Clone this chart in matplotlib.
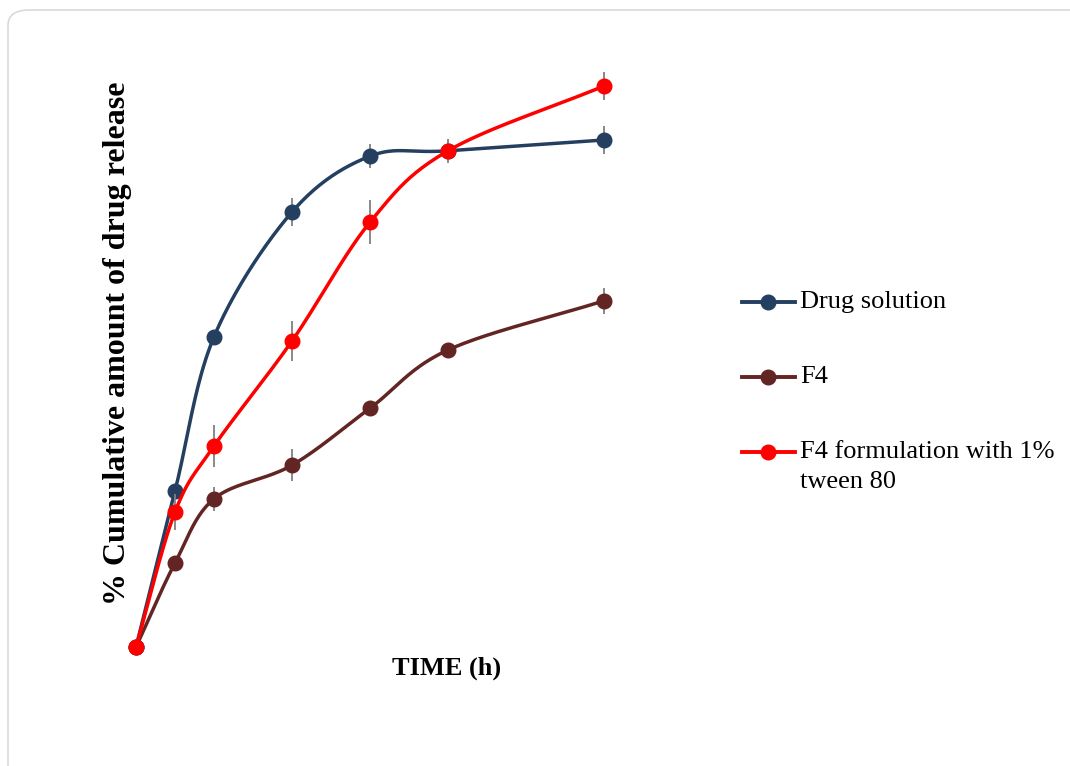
import numpy as np
import matplotlib
matplotlib.use("Agg")
import matplotlib.pyplot as plt
from matplotlib.patches import FancyBboxPatch
from matplotlib.lines import Line2D

time_h = [0, 0.5, 1, 2, 3, 4, 6]
drug_solution = [0, 26.0, 51.7, 72.5, 81.8, 82.7, 84.5]
drug_solution_err = [0, 1.0, 0, 2.4, 2.0, 1.5, 2.3]
f4 = [0, 14.0, 24.7, 30.3, 39.8, 49.5, 57.7]
f4_err = [0, 0, 2.0, 2.7, 0, 0, 2.2]
f4_tween = [0, 22.5, 33.5, 51.0, 70.8, 82.7, 93.5]
f4_tween_err = [0, 3.0, 3.5, 3.3, 3.7, 2.0, 2.3]
labels = ["Drug solution", "F4", "F4 formulation with 1%\ntween 80"]
colors = ["#243F60", "#632523", "#FF0000"]

W, H = 1070, 766
plt.rcParams['font.family'] = ['Liberation Serif', 'DejaVu Serif']
fig = plt.figure(figsize=(W / 100, H / 100), dpi=100)

# rounded frame (open at right and bottom, as in the cropped reference)
frame = FancyBboxPatch((8 / W, -20 / H), (W + 20) / W, (H + 10) / H,
                       boxstyle="round,pad=0,rounding_size=0.02",
                       transform=fig.transFigure, fc="none", ec="#d9d9d9",
                       lw=1.2, zorder=-5)
fig.patches.append(frame)

# axes in pixel coordinates
L, R, T, B = 120, 720, 50, 660
ax = fig.add_axes([L / W, 1 - B / H, (R - L) / W, (B - T) / H])
ax.set_facecolor("none")
px_per_h = 78.0
px_per_unit = 6.0
x0px, y0px = 136, 647
ax.set_xlim((L - x0px) / px_per_h, (R - x0px) / px_per_h)
ax.set_ylim(-(B - y0px) / px_per_unit, (y0px - T) / px_per_unit)
for s in ax.spines.values():
    s.set_visible(False)
ax.set_xticks([])
ax.set_yticks([])


def catmull_rom(xs, ys, n=40):
    # smooth curve through the data points (scaled to display proportions)
    P = np.column_stack([np.array(xs) * px_per_h, np.array(ys) * px_per_unit])
    P = np.vstack([P[0] - (P[1] - P[0]), P, P[-1] + (P[-1] - P[-2])])
    out = []
    for i in range(1, len(P) - 2):
        p0, p1, p2, p3 = P[i - 1], P[i], P[i + 1], P[i + 2]
        t = np.linspace(0, 1, n)[:, None]
        seg = 0.5 * ((2 * p1) + (-p0 + p2) * t + (2 * p0 - 5 * p1 + 4 * p2 - p3) * t ** 2
                     + (-p0 + 3 * p1 - 3 * p2 + p3) * t ** 3)
        out.append(seg)
    out = np.vstack(out)
    return out[:, 0] / px_per_h, out[:, 1] / px_per_unit


series = [(drug_solution, drug_solution_err), (f4, f4_err), (f4_tween, f4_tween_err)]
for i, ((ys, errs), c) in enumerate(zip(series, colors)):
    sx, sy = catmull_rom(time_h, ys)
    ax.errorbar(time_h, ys, yerr=errs, fmt="none", ecolor="#808080",
                elinewidth=1.3, capsize=0, zorder=2 + 2 * i)
    ax.plot(sx, sy, color=c, lw=2.5, zorder=3 + 2 * i, clip_on=False,
            solid_capstyle="round")
    ax.plot(time_h, ys, "o", color=c, ms=10.5, zorder=3 + 2 * i, clip_on=False)

fig.text(447 / W, 1 - 668 / H, "TIME (h)", ha="center", va="center",
         fontsize=19, fontweight="bold")
fig.text(117 / W, 1 - 343 / H, "% Cumulative amount of drug release",
         ha="center", va="center", rotation=90, fontsize=23, fontweight="bold")

# legend
leg_y = [302, 377, 452]
for lab, c, yy in zip(labels, colors, leg_y):
    fy = 1 - yy / H
    fig.add_artist(Line2D([742 / W, 795 / W], [fy, fy], color=c, lw=2.8,
                          transform=fig.transFigure))
    fig.add_artist(Line2D([768 / W], [fy], marker="o", color=c, ms=10.5,
                          transform=fig.transFigure))
    if "\n" in lab:
        fig.text(800 / W, fy + 11 / H, lab, ha="left", va="top", fontsize=19,
                 linespacing=1.5)
    else:
        fig.text(800 / W, fy, lab, ha="left", va="center", fontsize=19)

fig.savefig("out.png", dpi=100)
